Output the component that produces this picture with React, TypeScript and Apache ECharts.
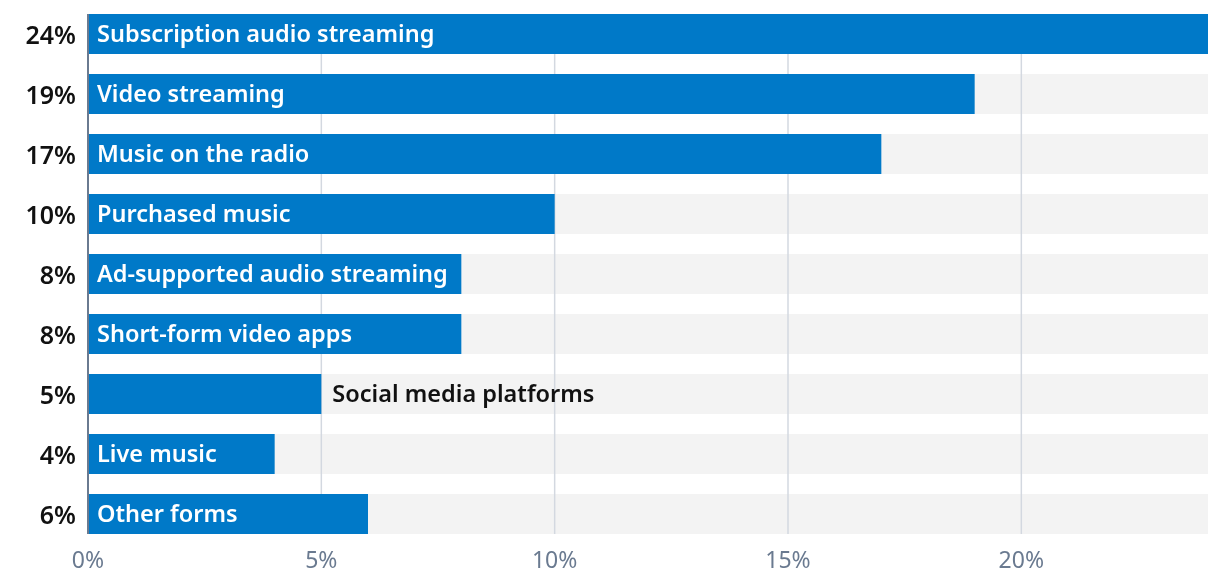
import React, { useEffect, useRef } from "react";
import * as echarts from "echarts";

const categories = [
  "Subscription audio streaming",
  "Video streaming",
  "Music on the radio",
  "Purchased music",
  "Ad-supported audio streaming",
  "Short-form video apps",
  "Social media platforms",
  "Live music",
  "Other forms",
];
const values = [24, 19, 17, 10, 8, 8, 5, 4, 6];
const outsideLabel = ["Social media platforms"];
const gridTicks = [5, 10, 15, 20];
const axisMax = 24;

const FONT = "Noto Sans";
const BLUE = "#0079c8";

export default function App() {
  const ref = useRef<HTMLDivElement>(null);
  useEffect(() => {
    if (!ref.current) return;
    const chart = echarts.init(ref.current, undefined, { renderer: "svg" });
    const vline = (color: string, width: number) => (params: any, api: any) => {
      const x = api.value(0);
      const top = api.coord([x, 0]);
      const bottom = api.coord([x, categories.length - 1]);
      const band = api.size([0, 1])[1];
      const half = band / 3;
      return {
        type: "line",
        shape: { x1: top[0], y1: top[1] - half, x2: top[0], y2: bottom[1] + half },
        style: { stroke: color, lineWidth: width },
      };
    };
    chart.setOption({
      animation: false,
      grid: { left: 88, right: 12, top: 4, bottom: 40 },
      xAxis: {
        type: "value",
        min: 0,
        max: axisMax,
        interval: 5,
        axisLine: { show: false },
        axisTick: { show: false },
        splitLine: { show: false },
        axisLabel: {
          showMaxLabel: false,
          formatter: (v: number) => (v === axisMax ? "" : v + "%"),
          color: "#6a7a90",
          fontFamily: FONT,
          fontSize: 23,
          margin: 3,
        },
      },
      yAxis: {
        type: "category",
        data: categories,
        inverse: true,
        axisLine: { show: false },
        axisTick: { show: false },
        splitLine: { show: false },
        axisLabel: {
          formatter: (_: string, i: number) => values[i] + "%",
          color: "#111",
          fontFamily: FONT,
          fontWeight: 600,
          fontSize: 25,
          margin: 12,
          padding: [0, 0, 4, 0],
        },
      },
      series: [
        {
          type: "bar",
          data: categories.map(() => axisMax),
          barWidth: 40,
          barGap: "-100%",
          itemStyle: { color: "#f3f3f3" },
          silent: true,
          z: 1,
        },
        {
          type: "custom",
          data: gridTicks.map((t) => [t, 0]),
          encode: { x: 0, y: 1 },
          renderItem: vline("#d3d8e0", 1.5),
          silent: true,
          z: 2,
        },
        {
          type: "bar",
          data: values.map((v, i) => {
            const out = outsideLabel.includes(categories[i]);
            return {
              value: v,
              label: out
                ? { position: "right", color: "#111", distance: 11 }
                : { position: "insideLeft", color: "#fff", distance: 9 },
            };
          }),
          barWidth: 40,
          barGap: "-100%",
          itemStyle: { color: BLUE },
          label: {
            show: true,
            formatter: (p: any) => categories[p.dataIndex],
            fontFamily: FONT,
            fontWeight: 600,
            fontSize: 23.5,
            offset: [0, -1.5],
          },
          z: 3,
        },
        {
          type: "custom",
          data: [[0, 0]],
          encode: { x: 0, y: 1 },
          renderItem: vline("#6a7a90", 2),
          silent: true,
          z: 4,
        },
      ],
    });
    return () => chart.dispose();
  }, []);
  return (
    <div
      ref={ref}
      style={{ position: "fixed", left: 0, top: 0, width: 1220, height: 584 }}
    />
  );
}
